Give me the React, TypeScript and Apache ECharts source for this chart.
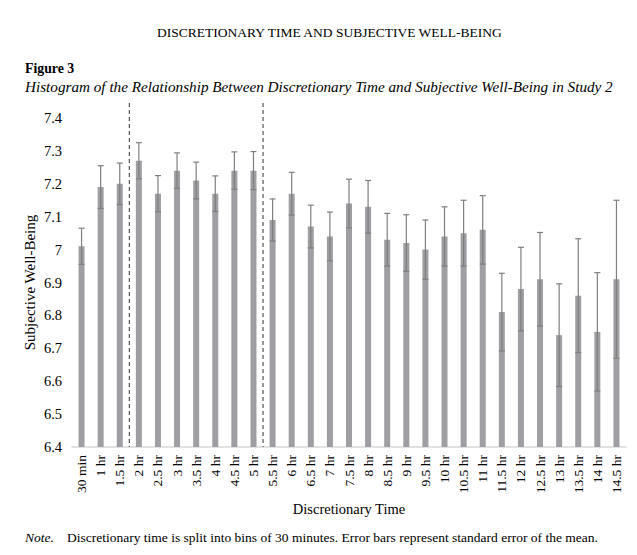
import React, { useEffect, useRef } from "react";
import * as echarts from "echarts";

const categories = [
  "30 min", "1 hr", "1.5 hr", "2 hr", "2.5 hr", "3 hr", "3.5 hr", "4 hr", "4.5 hr", "5 hr",
  "5.5 hr", "6 hr", "6.5 hr", "7 hr", "7.5 hr", "8 hr", "8.5 hr", "9 hr", "9.5 hr", "10 hr",
  "10.5 hr", "11 hr", "11.5 hr", "12 hr", "12.5 hr", "13 hr", "13.5 hr", "14 hr", "14.5 hr",
];

const meanValues = [
  7.01, 7.19, 7.20, 7.27, 7.17, 7.24, 7.21, 7.17, 7.24, 7.24,
  7.09, 7.17, 7.07, 7.04, 7.14, 7.13, 7.03, 7.02, 7.00, 7.04,
  7.05, 7.06, 6.81, 6.88, 6.91, 6.74, 6.86, 6.75, 6.91,
];

const standardErrors = [
  0.055, 0.065, 0.063, 0.055, 0.055, 0.054, 0.056, 0.054, 0.057, 0.058,
  0.064, 0.065, 0.065, 0.074, 0.074, 0.08, 0.08, 0.086, 0.09, 0.09,
  0.10, 0.104, 0.118, 0.127, 0.142, 0.156, 0.173, 0.18, 0.24,
];

const yTicks = [6.4, 6.5, 6.6, 6.7, 6.8, 6.9, 7, 7.1, 7.2, 7.3, 7.4];

// boundaries drawn after these categories
const dividerAfter = ["1.5 hr", "5 hr"];

const SERIF = "'Liberation Serif', 'DejaVu Serif', serif";

export default function App() {
  const ref = useRef<HTMLDivElement>(null);

  useEffect(() => {
    if (!ref.current) return;
    const chart = echarts.init(ref.current, null, { renderer: "svg" });

    const errData = meanValues.map((m, i) => [i, m - standardErrors[i], m + standardErrors[i]]);
    const divData = dividerAfter.map((c) => [categories.indexOf(c)]);

    chart.setOption({
      animation: false,
      backgroundColor: "#ffffff",
      grid: { left: 72, right: 11, top: 118, bottom: 108, containLabel: false },
      title: [
        {
          text: "DISCRETIONARY TIME AND SUBJECTIVE WELL-BEING",
          left: 152,
          top: 20,
          textStyle: { fontFamily: SERIF, fontSize: 13.5, fontWeight: "normal", color: "#000" },
        },
      ],
      graphic: [
        {
          type: "text",
          left: 25,
          top: 61,
          style: { text: "Figure 3", font: `bold 13.8px ${SERIF}`, fill: "#000" },
        },
        {
          type: "text",
          left: 25,
          top: 79,
          style: {
            text: "Histogram of the Relationship Between Discretionary Time and Subjective Well-Being in Study 2",
            font: `italic 15.2px ${SERIF}`,
            fill: "#000",
          },
        },
        {
          type: "text",
          left: 25,
          top: 530,
          style: { text: "Note.", font: `italic 13.5px ${SERIF}`, fill: "#000" },
        },
        {
          type: "text",
          left: 67,
          top: 530,
          style: {
            text: "Discretionary time is split into bins of 30 minutes. Error bars represent standard error of the mean.",
            font: `13.5px ${SERIF}`,
            fill: "#000",
          },
        },
      ],
      xAxis: {
        type: "category",
        data: categories,
        name: "Discretionary Time",
        nameLocation: "middle",
        nameGap: 54,
        nameMoveOverlap: false,
        nameTextStyle: { fontFamily: SERIF, fontSize: 14.5, color: "#000" },
        axisLine: { lineStyle: { color: "#d9d9d9", width: 1.5 } },
        axisTick: { show: false },
        axisLabel: {
          rotate: 90,
          interval: 0,
          margin: 8,
          fontFamily: SERIF,
          fontSize: 13.5,
          color: "#000",
        },
      },
      yAxis: {
        type: "value",
        min: 6.4,
        max: 7.4,
        interval: 0.1,
        name: "Subjective Well-Being",
        nameLocation: "middle",
        nameGap: 34.5,
        nameMoveOverlap: false,
        nameTextStyle: { fontFamily: SERIF, fontSize: 15, color: "#000" },
        axisLine: { show: false },
        axisTick: { show: false },
        splitLine: { show: false },
        axisLabel: {
          margin: 10,
          fontFamily: SERIF,
          fontSize: 14.5,
          color: "#000",
          customValues: yTicks,
          formatter: (v: number) => {
            const r = Math.round(v * 10) / 10;
            return String(r);
          },
        },
      },
      series: [
        {
          type: "bar",
          data: meanValues,
          barWidth: 6,
          itemStyle: { color: "#9e9ea3" },
          z: 2,
        },
        {
          type: "custom",
          data: errData,
          z: 3,
          renderItem: (params: any, api: any) => {
            const x = api.value(0);
            const lo = api.coord([x, api.value(1)]);
            const hi = api.coord([x, api.value(2)]);
            const cap = 3;
            const style = { stroke: "#7f7f7f", lineWidth: 1.2 };
            return {
              type: "group",
              children: [
                { type: "line", shape: { x1: hi[0], y1: hi[1], x2: lo[0], y2: lo[1] }, style },
                { type: "line", shape: { x1: hi[0] - cap, y1: hi[1], x2: hi[0] + cap, y2: hi[1] }, style },
                { type: "line", shape: { x1: lo[0] - cap, y1: lo[1], x2: lo[0] + cap, y2: lo[1] }, style },
              ],
            };
          },
        },
        {
          type: "custom",
          data: divData,
          z: 4,
          clip: false,
          renderItem: (params: any, api: any) => {
            const i = api.value(0);
            const bottom = api.coord([i, 6.4]);
            const top = api.coord([i, 7.4]);
            const half = api.size([1, 0])[0] / 2;
            const x = bottom[0] + half;
            return {
              type: "line",
              shape: { x1: x, y1: top[1] - 15, x2: x, y2: bottom[1] },
              style: { stroke: "#333", lineWidth: 1, lineDash: [4, 3] },
            };
          },
        },
      ],
    });

    return () => chart.dispose();
  }, []);

  return (
    <div
      ref={ref}
      style={{ width: 637, height: 555, position: "absolute", left: 0, top: 0 }}
    />
  );
}
